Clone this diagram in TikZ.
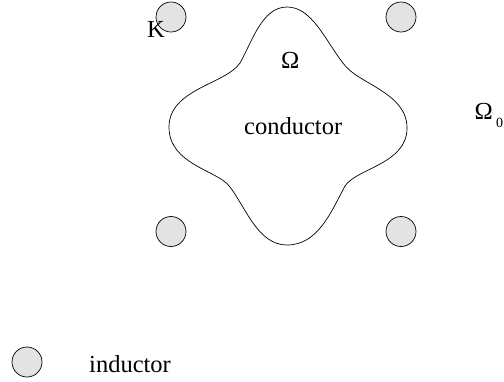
\documentclass[tikz,border=0pt]{standalone}
\usepackage{fontspec}
\setmainfont{Liberation Serif}
\tikzset{
  coil/.style={circle,draw=black,fill=black!11,line width=0.7pt,minimum size=30pt,inner sep=0pt},
  lab/.style={inner sep=0pt,anchor=base west,font=\fontsize{24.5}{26}\selectfont,text=black}
}
\begin{document}
\begin{tikzpicture}[x=1pt,y=-1pt]
\useasboundingbox (0,0) rectangle (504,381);
\node[coil] (c1) at (171,17) {};
\node[coil] (c2) at (401,17) {};
\node[coil] (c3) at (171,231.5) {};
\node[coil] (c4) at (401,231.5) {};
\node[coil] (c5) at (27,362) {};
\draw[line width=0.7pt] (287,7)
  .. controls (262,7) and (252,42) .. (240,63)
  .. controls (226,84) and (169,89) .. (169,127)
  .. controls (169,165) and (218,170) .. (230,187)
  .. controls (246,208) and (258,245) .. (287,245)
  .. controls (318,245) and (331,212) .. (345,186)
  .. controls (357,168) and (407,164) .. (407,128)
  .. controls (407,92) and (357,84) .. (343,63)
  .. controls (325,40) and (312,7) .. (287,7) -- cycle;
\node[lab] (k) at (147,37) {K};
\node[lab] (om) at (281,68) {Ω};
\node[lab] (cond) at (244,134) {conductor};
\node[lab] (om0) at (474.5,119) {Ω};
\node[lab,font=\fontsize{14}{15}\selectfont] (sub) at (496,127) {0};
\node[lab] (ind) at (89,372) {inductor};
\end{tikzpicture}
\end{document}
